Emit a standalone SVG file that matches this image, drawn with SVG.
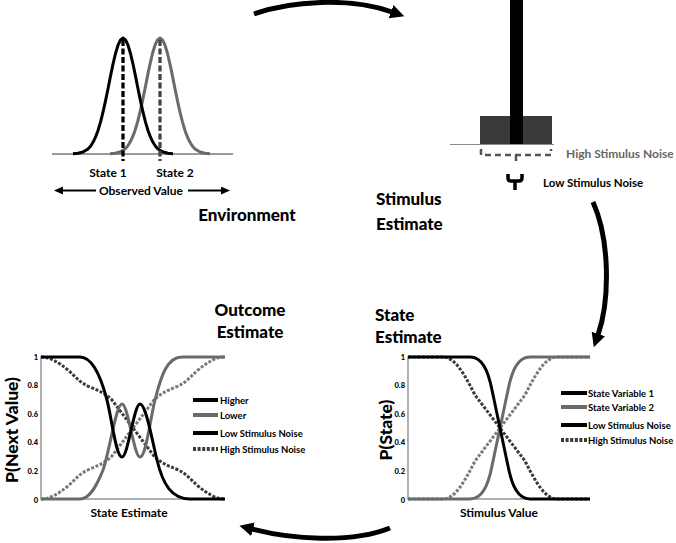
<svg xmlns="http://www.w3.org/2000/svg" width="676" height="543" viewBox="0 0 676 543">
<style>
text{font-family:Lato,"Liberation Sans",Arial,sans-serif;font-weight:bold;fill:#000}
.title{font-size:17px;font-weight:900}
.axlab{font-size:17.5px;font-weight:900}
.small{font-size:12px}
.leg{font-size:9.5px}
.tick{font-size:7.5px;text-anchor:end;font-weight:900}
.axis{stroke:#b0b0b0;stroke-width:2;fill:none}
.blk{stroke:#000;stroke-width:3;fill:none;stroke-linejoin:round}
.gry{stroke:#6a6a6a;stroke-width:3;fill:none;stroke-linejoin:round}
.dotd{stroke:#3a3a3a;stroke-width:3;fill:none;stroke-dasharray:3 1.6}
.dotl{stroke:#7a7a7a;stroke-width:3;fill:none;stroke-dasharray:3 1.6}
.legblk{stroke:#000;stroke-width:4}
.leggry{stroke:#6a6a6a;stroke-width:4}
.legdot{stroke:#3a3a3a;stroke-width:4;stroke-dasharray:3 1.6}
.conn{stroke:#000;stroke-width:5;fill:none}
</style>
<defs>
<marker id="bigHead" markerUnits="userSpaceOnUse" markerWidth="16" markerHeight="16" refX="1" refY="7" orient="auto">
<path d="M0,0 L14,7 L0,14 z" fill="#000"/>
</marker>
<marker id="smallHead" markerUnits="userSpaceOnUse" markerWidth="10" markerHeight="10" refX="1" refY="4" orient="auto">
<path d="M0,0 L9,4 L0,8 z" fill="#000"/>
</marker>
</defs>

<!-- Environment -->
<g id="environment">
<line x1="52" y1="154" x2="233" y2="154" stroke="#7a7a7a" stroke-width="1.5"/>
<polyline class="gry" stroke-width="2.5" points="110,153.8 115,153.3 120,152 125,148.9 127.5,146.2 130,142.3 132.5,137.2 135,130.5 137.5,122.1 140,112.2 142.5,100.9 145,88.7 147.5,76.1 150,64.1 152.5,53.5 155,45.2 157.5,39.9 160,38 162.5,39.9 165,45.2 167.5,53.5 170,64.1 172.5,76.1 175,88.7 177.5,100.9 180,112.2 182.5,122.1 185,130.5 187.5,137.2 190,142.3 192.5,146.2 195,148.9 200,152 205,153.3 210,153.8"/>
<polyline class="blk" stroke-width="2.5" points="73,153.8 78,153.3 83,152 88,148.9 90.5,146.2 93,142.3 95.5,137.2 98,130.5 100.5,122.1 103,112.2 105.5,100.9 108,88.7 110.5,76.1 113,64.1 115.5,53.5 118,45.2 120.5,39.9 123,38 125.5,39.9 128,45.2 130.5,53.5 133,64.1 135.5,76.1 138,88.7 140.5,100.9 143,112.2 145.5,122.1 148,130.5 150.5,137.2 153,142.3 155.5,146.2 158,148.9 163,152 168,153.3 173,153.8"/>
<line x1="123" y1="40" x2="123" y2="161" stroke="#000" stroke-width="3.3" stroke-dasharray="6 2.5"/>
<line x1="160" y1="40" x2="160" y2="161" stroke="#444" stroke-width="3.3" stroke-dasharray="6 2.5"/>
<text class="small" x="108" y="177" text-anchor="middle">State 1</text>
<text class="small" x="175" y="177" text-anchor="middle">State 2</text>
<line x1="96" y1="190.5" x2="62" y2="190.5" stroke="#000" stroke-width="2" marker-end="url(#smallHead)"/>
<line x1="188" y1="190.5" x2="222" y2="190.5" stroke="#000" stroke-width="2" marker-end="url(#smallHead)"/>
<text class="small" x="141" y="195" text-anchor="middle">Observed Value</text>
<text class="title" x="247" y="221" text-anchor="middle">Environment</text>
</g>

<!-- Stimulus Estimate -->
<g id="stimulus-estimate">
<rect x="480" y="116" width="72" height="28" fill="#3a3a3a"/>
<rect x="510" y="0" width="13" height="144" fill="#000"/>
<line x1="450" y1="144.5" x2="554" y2="144.5" stroke="#8a8a8a" stroke-width="1"/>
<path d="M481,149 L481,155 L551,155 L551,149 M516,155 L516,163" stroke="#555" stroke-width="2.5" fill="none" stroke-dasharray="6 4"/>
<text class="small" x="566" y="158" style="fill:#666">High Stimulus Noise</text>
<path d="M508,174 L508,178 Q508,181 511,181 L519,181 Q522,181 522,178 L522,174 M515,181 L515,190" stroke="#000" stroke-width="3.5" fill="none"/>
<text x="543" y="187" style="font-size:11.5px">Low Stimulus Noise</text>
<text class="title" x="376" y="205">Stimulus</text>
<text class="title" x="376" y="230">Estimate</text>
</g>

<!-- State Estimate -->
<g id="state-estimate">
<text class="title" x="375" y="321">State</text>
<text class="title" x="375" y="343">Estimate</text>
<path class="axis" d="M408,356 L408,499 L590,499"/>
<text class="tick" x="405" y="359.6">1</text>
<text class="tick" x="405" y="388.2">0.8</text>
<text class="tick" x="405" y="416.8">0.6</text>
<text class="tick" x="405" y="445.4">0.4</text>
<text class="tick" x="405" y="474">0.2</text>
<text class="tick" x="405" y="502.6">0</text>
<text class="axlab" transform="translate(392,430) rotate(-90)" text-anchor="middle">P(State)</text>
<text class="small" x="499" y="517" text-anchor="middle">Stimulus Value</text>
<path class="dotl" d="M408,499 L443,499 C455,499 465,481 475,461 L525,395 C535,375 545,357 557,357 L590,357"/>
<path class="dotd" d="M408,357 L443,357 C455,357 465,375 475,395 L525,461 C535,481 545,499 557,499 L590,499"/>
<path class="gry" d="M408,499 L470,499 C482,499 488,486 492,466 L508,390 C512,370 518,357 530,357 L590,357"/>
<path class="blk" d="M408,357 L470,357 C482,357 488,370 492,390 L508,466 C512,486 518,499 530,499 L590,499"/>
<line class="legblk" x1="561" y1="393" x2="587" y2="393"/>
<line class="leggry" x1="561" y1="407" x2="587" y2="407"/>
<line class="legblk" x1="561" y1="425" x2="587" y2="425"/>
<line class="legdot" x1="561" y1="440" x2="587" y2="440"/>
<text class="leg" x="588" y="396.5">State Variable 1</text>
<text class="leg" x="588" y="410.5">State Variable 2</text>
<text class="leg" x="588" y="428.5">Low Stimulus Noise</text>
<text class="leg" x="588" y="443.5">High Stimulus Noise</text>
</g>

<!-- Outcome Estimate -->
<g id="outcome-estimate">
<text class="title" x="250" y="316" text-anchor="middle">Outcome</text>
<text class="title" x="250" y="338" text-anchor="middle">Estimate</text>
<path class="axis" d="M41,356 L41,499 L225,499"/>
<text class="tick" x="38" y="359.6">1</text>
<text class="tick" x="38" y="388.2">0.8</text>
<text class="tick" x="38" y="416.8">0.6</text>
<text class="tick" x="38" y="445.4">0.4</text>
<text class="tick" x="38" y="474">0.2</text>
<text class="tick" x="38" y="502.6">0</text>
<text class="axlab" transform="translate(18,430) rotate(-90)" text-anchor="middle">P(Next Value)</text>
<text class="small" x="129" y="517" text-anchor="middle">State Estimate</text>
<path class="dotl" d="M41,499 C50,499 58,494 68,486 C76,479 80,473 90,469 C100,465 106,462 112,456 L154,400 C160,394 166,391 176,387 C186,383 190,377 198,370 C208,362 216,357 225,357"/>
<path class="dotd" d="M41,357 C50,357 58,362 68,370 C76,377 80,383 90,387 C100,391 106,394 112,400 L154,456 C160,462 166,465 176,469 C186,473 190,479 198,486 C208,494 216,499 225,499"/>
<path class="gry" d="M41,499 L80,499 C90,499 97,485 103,470 C110,450 116,404 122,404 C128,404 134,457 140,457 C146,457 150,420 155,400 C161,376 167,357 182,357 L225,357"/>
<path class="blk" d="M41,357 L80,357 C92,357 101,377 107,400 C112,420 116,457 122,457 C128,457 134,404 140,404 C146,404 152,440 157,460 C163,485 172,499 190,499 L225,499"/>
<line class="legblk" x1="193" y1="400" x2="218" y2="400"/>
<line class="leggry" x1="193" y1="415" x2="218" y2="415"/>
<line class="legblk" x1="193" y1="433" x2="218" y2="433"/>
<line class="legdot" x1="193" y1="449" x2="218" y2="449"/>
<text class="leg" x="220" y="403.5">Higher</text>
<text class="leg" x="220" y="418.5">Lower</text>
<text class="leg" x="220" y="436.5">Low Stimulus Noise</text>
<text class="leg" x="220" y="452.5">High Stimulus Noise</text>
</g>

<!-- Connectors -->
<g id="connectors">
<path class="conn" d="M254,14 C290,1 350,-3 392,12" marker-end="url(#bigHead)"/>
<path class="conn" d="M593,202 C610,240 610,300 598,335" marker-end="url(#bigHead)"/>
<path class="conn" d="M390,528 C350,544 290,539 252,529" marker-end="url(#bigHead)"/>
</g>
</svg>
